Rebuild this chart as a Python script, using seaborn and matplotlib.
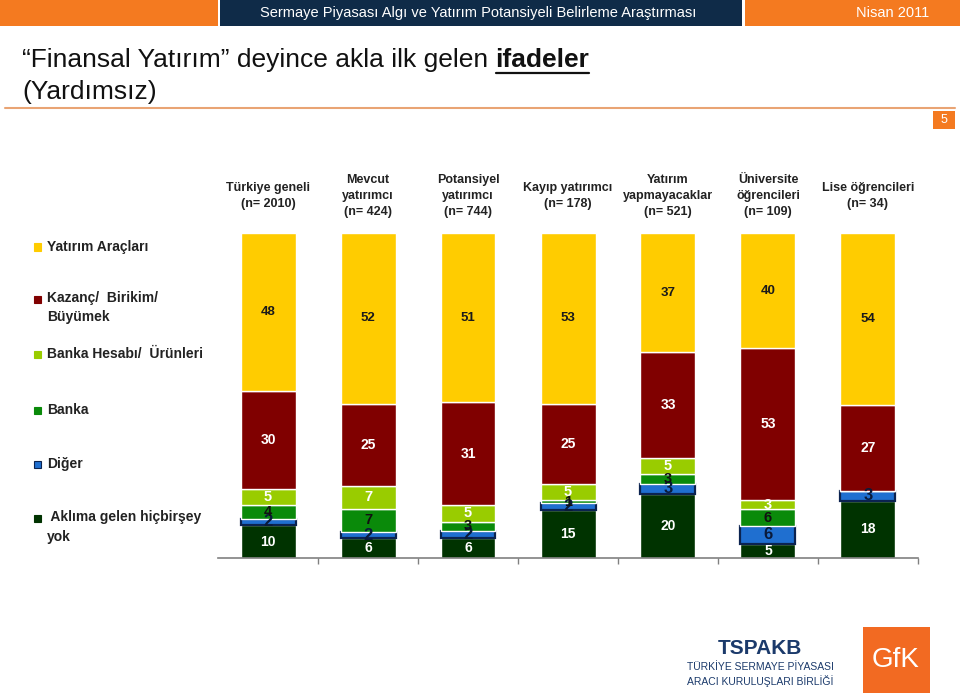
import matplotlib
matplotlib.use("Agg")
import matplotlib.pyplot as plt
import seaborn as sns
import pandas as pd
import numpy as np
from matplotlib.patches import Rectangle
from matplotlib.lines import Line2D
from matplotlib import font_manager

sns.set_theme(style="white")
plt.rcParams['font.family'] = ['Liberation Sans', 'DejaVu Sans']

_names = {f.name for f in font_manager.fontManager.ttflist}
NARROW = ['Liberation Sans Narrow'] if 'Liberation Sans Narrow' in _names else ['Liberation Sans']

# ---------------- data ----------------
categories = ["Türkiye geneli", "Mevcut yatırımcı", "Potansiyel yatırımcı",
              "Kayıp yatırımcı", "Yatırım yapmayacaklar",
              "Üniversite öğrencileri", "Lise öğrencileri"]
header_labels = ["Türkiye geneli\n(n= 2010)", "Mevcut\nyatırımcı\n(n= 424)",
                 "Potansiyel\nyatırımcı\n(n= 744)", "Kayıp yatırımcı\n(n= 178)",
                 "Yatırım\nyapmayacaklar\n(n= 521)", "Üniversite\nöğrencileri\n(n= 109)",
                 "Lise öğrencileri\n(n= 34)"]
hicbirsey = [10, 6, 6, 15, 20, 5, 18]
diger = [2, 2, 2, 2, 3, 6, 3]
banka = [4, 7, 3, 1, 3, 6, 0]
banka_hesabi = [5, 7, 5, 5, 5, 3, 0]
kazanc = [30, 25, 31, 25, 33, 53, 27]
yatirim_araclari = [48, 52, 51, 53, 37, 40, 54]

series_names = ["Aklıma gelen hiçbirşey yok", "Diğer", "Banka",
                "Banka Hesabı/ Ürünleri", "Kazanç/ Birikim/ Büyümek", "Yatırım Araçları"]
series_values = [hicbirsey, diger, banka, banka_hesabi, kazanc, yatirim_araclari]
series_colors = ["#003300", "#1F6FD0", "#0A8A0A", "#99CC00", "#800000", "#FFCC00"]
label_colors = ["white", "#0A1A3A", "#111111", "white", "white", "#1A1A1A"]
label_sizes = [10, 12, 10.5, 10.5, 10, 9.5]

# ---------------- figure ----------------
W, H = 960, 696
fig = plt.figure(figsize=(W / 100, H / 100), dpi=100)
fig.patch.set_facecolor("white")

def fx(x):
    return x / W

def fy(y):
    return 1 - y / H

# top banner
fig.add_artist(Rectangle((fx(0), fy(26)), fx(218), 26 / H, transform=fig.transFigure,
                         color="#F47A20", lw=0))
fig.add_artist(Rectangle((fx(220), fy(26)), fx(522), 26 / H, transform=fig.transFigure,
                         color="#0F2B48", lw=0))
fig.add_artist(Rectangle((fx(745), fy(26)), fx(215), 26 / H, transform=fig.transFigure,
                         color="#F47A20", lw=0))
fig.text(fx(478), fy(13), "Sermaye Piyasası Algı ve Yatırım Potansiyeli Belirleme Araştırması",
         color="white", fontsize=10.5, ha="center", va="center", family=NARROW)
fig.text(fx(893), fy(13), "Nisan 2011", color="white", fontsize=10.5, ha="center", va="center",
         family=NARROW)

# title
TS = 20 if NARROW[0] != 'Liberation Sans' else 19
t1 = fig.text(fx(22), fy(60), "“Finansal Yatırım” deyince akla ilk gelen ",
              fontsize=TS, color="#111111", ha="left", va="center", family=NARROW)
fig.canvas.draw()
r = fig.canvas.get_renderer()
bb = t1.get_window_extent(renderer=r)
t2 = fig.text(bb.x1 / W, fy(60), "ifadeler", fontsize=TS, fontweight="bold",
              color="#111111", ha="left", va="center", family=NARROW)
bb2 = t2.get_window_extent(renderer=r)
fig.add_artist(Line2D([bb2.x0 / W, bb2.x1 / W], [fy(73), fy(73)], transform=fig.transFigure,
                      color="#111111", lw=1.6))
fig.text(fx(22), fy(92), "(Yardımsız)", fontsize=TS, color="#111111", ha="left", va="center",
         family=NARROW)

# separator line and page number
fig.add_artist(Line2D([fx(5), fx(955)], [fy(108), fy(108)], transform=fig.transFigure,
                      color="#E9A474", lw=1.5))
fig.add_artist(Rectangle((fx(933), fy(129)), fx(22), 18 / H, transform=fig.transFigure,
                         color="#F47A20", lw=0))
fig.text(fx(944), fy(120), "5", color="white", fontsize=9, ha="center", va="center")

# ---------------- bars ----------------
ax = fig.add_axes([fx(218), fy(558), fx(700), 325 / H])
totals = np.sum(np.array(series_values, dtype=float), axis=0)
bottom = np.zeros(len(categories))
for name, vals, col, lc, ls in zip(series_names, series_values, series_colors,
                                   label_colors, label_sizes):
    vals = np.array(vals, dtype=float)
    pct = vals / totals * 100
    df = pd.DataFrame({"kategori": categories, "pct": pct})
    is_blue = name == "Diğer"
    sns.barplot(data=df, x="kategori", y="pct", order=categories, color=col,
                saturation=1, width=0.55, bottom=bottom, ax=ax,
                edgecolor="#0B2350" if is_blue else "white",
                linewidth=1.6 if is_blue else 1.0, errorbar=None)
    for i, (v, p) in enumerate(zip(vals, pct)):
        if v > 0:
            ax.text(i, bottom[i] + p / 2, f"{int(v)}", ha="center", va="center",
                    color=lc, fontsize=ls, fontweight="bold")
    bottom = bottom + pct

ax.set_xlim(-0.5, len(categories) - 0.5)
ax.set_ylim(0, 100)
ax.set_xlabel("")
ax.set_ylabel("")
ax.set_yticks([])
ax.set_xticks(range(len(categories)))
ax.set_xticklabels([])
ax.set_xticks(np.arange(0.5, len(categories), 1.0), minor=True)
ax.tick_params(axis="x", which="major", length=0)
ax.tick_params(axis="x", which="minor", length=4, width=1, color="#808080", direction="out",
               bottom=True)
for s in ["top", "left", "right"]:
    ax.spines[s].set_visible(False)
ax.spines["bottom"].set_color("#808080")
ax.spines["bottom"].set_linewidth(1.2)
ax.set_facecolor("none")

# column headers (above the bars)
head_y = (fy(196) - fy(558)) / (325 / H)
for i, h in enumerate(header_labels):
    ax.text(i, head_y, h, transform=ax.get_xaxis_transform(), ha="center", va="center",
            fontsize=9, fontweight="bold", color="#222222", linespacing=1.45)

# ---------------- legend ----------------
legend_items = [("Yatırım Araçları", "#FFCC00", 247),
                ("Kazanç/  Birikim/\nBüyümek", "#800000", 299),
                ("Banka Hesabı/  Ürünleri", "#99CC00", 354),
                ("Banka", "#0A8A0A", 410),
                ("Diğer", "#1F6FD0", 464),
                (" Aklıma gelen hiçbirşey\nyok", "#003300", 518)]
for txt, col, y in legend_items:
    is_blue = col == "#1F6FD0"
    fig.add_artist(Rectangle((fx(34), fy(y + 3.5)), fx(7), 7 / H, transform=fig.transFigure,
                             facecolor=col, edgecolor="#0B2350" if is_blue else col, lw=0.8))
    multi = "\n" in txt
    fig.text(fx(47), fy(y - 8) if multi else fy(y), txt, fontsize=10, fontweight="bold",
             color="#222222", ha="left", va="top" if multi else "center",
             linespacing=1.5)

# ---------------- logos ----------------
fig.text(fx(760), fy(648), "TSPAKB", color="#1B3A6B", fontsize=15, fontweight="bold",
         ha="center", va="center", family=NARROW)
fig.text(fx(760), fy(667), "TÜRKİYE SERMAYE PİYASASI", color="#1B3A6B", fontsize=7.5,
         ha="center", va="center")
fig.text(fx(760), fy(681), "ARACI KURULUŞLARI BİRLİĞİ", color="#1B3A6B", fontsize=7.5,
         ha="center", va="center")
fig.add_artist(Rectangle((fx(863), fy(693)), fx(67), 66 / H, transform=fig.transFigure,
                         color="#F26A22", lw=0))
fig.text(fx(896), fy(660), "GfK", color="white", fontsize=20, ha="center", va="center")

fig.savefig("out.png", dpi=100, facecolor="white")
